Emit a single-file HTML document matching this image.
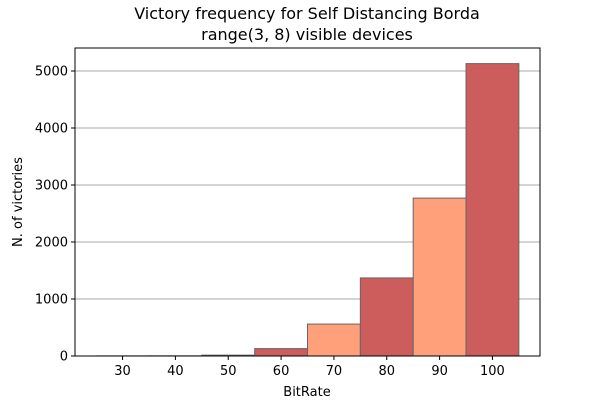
<!DOCTYPE html>
<html><head><meta charset="utf-8"><style>
body{margin:0;background:#fff;font-family:"Liberation Sans","DejaVu Sans",sans-serif}
svg text{font-family:"DejaVu Sans","Liberation Sans",sans-serif;fill:#000}
</style></head><body>
<svg id="chart" width="600" height="400">
<text x="307" y="19" text-anchor="middle" font-size="16">Victory frequency for Self Distancing Borda</text>
<text x="307" y="40" text-anchor="middle" font-size="16">range(3, 8) visible devices</text>
<g id="grid"></g><g id="bars"></g><g id="axes"></g>
<text x="307" y="396" text-anchor="middle" font-size="13">BitRate</text>
<text transform="translate(22,202) rotate(-90)" text-anchor="middle" font-size="13">N. of victories</text>
</svg>
<script>
const categories=[30,40,50,60,70,80,90,100];
const counts=[2,3,15,130,560,1370,2770,5130];
const xTicks=[30,40,50,60,70,80,90,100];
const yTicks=[0,1000,2000,3000,4000,5000];
const L=75,R=540,T=48,B=356;
const x=v=>L+(v-21)/(109-21)*(R-L);
const y=v=>B-v/5000*285;
const NS="http://www.w3.org/2000/svg";
function mk(tag,attrs,parent){const e=document.createElementNS(NS,tag);for(const k in attrs)e.setAttribute(k,attrs[k]);document.getElementById(parent).appendChild(e);return e;}
yTicks.forEach(t=>{
 const g=mk('line',{x1:L,x2:R,y1:y(t),y2:y(t),stroke:'#a8a8a8','stroke-width':0.9},'grid');
 
 
 const tk=mk('line',{x1:L-4,x2:L,y1:y(t),y2:y(t),stroke:'#000'},'axes');
 
 
 const tx=mk('text',{x:L-7,y:y(t)+4.5,'text-anchor':'end','font-size':13},'axes');
 tx.textContent=t;
 
 
});
categories.forEach((c,i)=>{
 const r=mk('rect',{x:x(c-5),y:y(counts[i]),width:x(c+5)-x(c-5),height:B-y(counts[i]),fill:i%2?'#cd5c5c':'#ffa07a',stroke:'#666','stroke-width':1},'bars');
 
 
});
xTicks.forEach(t=>{
 const tk=mk('line',{x1:x(t),x2:x(t),y1:B,y2:B+4,stroke:'#000'},'axes');
 
 
 const tx=mk('text',{x:x(t),y:B+19,'text-anchor':'middle','font-size':13},'axes');
 tx.textContent=t;
 
 
});
const f=mk('rect',{x:L,y:T,width:R-L,height:B-T,fill:'none',stroke:'#000','stroke-width':1},'axes');


</script>
</body></html>
